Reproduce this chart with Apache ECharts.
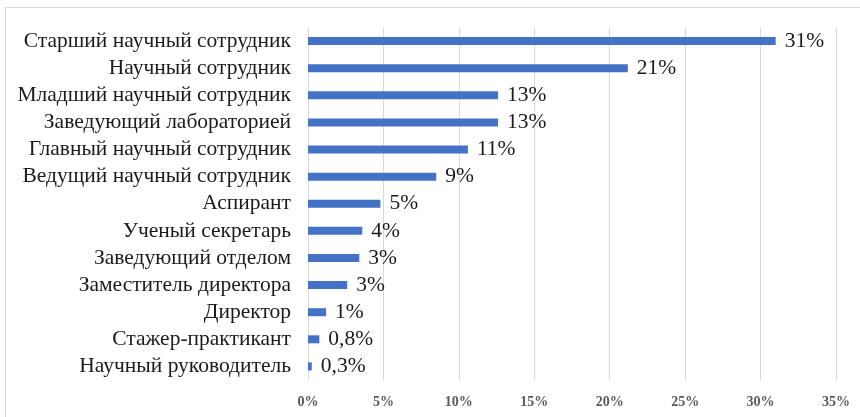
<!DOCTYPE html>
<html>
<head>
<meta charset="utf-8">
<script src="https://cdn.jsdelivr.net/npm/echarts@6/dist/echarts.min.js"></script>
<style>
  html, body { margin: 0; padding: 0; background: #fff; overflow: hidden; }
  #frame {
    position: absolute; left: 5px; top: 7px; width: 870px; height: 420px;
    border: 1px solid #d9d9d9; box-sizing: border-box;
  }
  #chart { position: absolute; left: 0; top: 0; width: 860px; height: 417px; }
</style>
</head>
<body>
<div id="frame"></div>
<div id="chart"></div>
<script>
  // ==================== 数据 ====================

  // категории сверху вниз
  var categories = [
    'Старший научный сотрудник',
    'Научный сотрудник',
    'Младший научный сотрудник',
    'Заведующий лабораторией',
    'Главный научный сотрудник',
    'Ведущий научный сотрудник',
    'Аспирант',
    'Ученый секретарь',
    'Заведующий отделом',
    'Заместитель директора',
    'Директор',
    'Стажер-практикант',
    'Научный руководитель'
  ];

  // длина столбцов, %
  var values = [31, 21.2, 12.6, 12.6, 10.6, 8.5, 4.8, 3.6, 3.4, 2.6, 1.2, 0.75, 0.25];

  // подписи над столбцами, как в оригинале
  var valueLabels = ['31%', '21%', '13%', '13%', '11%', '9%', '5%', '4%', '3%', '3%', '1%', '0,8%', '0,3%'];

  var xTicks = [0, 5, 10, 15, 20, 25, 30, 35];

  // ==================== 渲染 ====================

  var serif = '"Liberation Serif", "DejaVu Serif", serif';
  var chart = echarts.init(document.getElementById('chart'));

  chart.setOption({
    backgroundColor: 'transparent',
    animation: false,
    grid: { left: 308, right: 24, top: 27.5, bottom: 37, containLabel: false },
    xAxis: {
      type: 'value',
      min: xTicks[0],
      max: xTicks[xTicks.length - 1],
      interval: 5,
      axisLine: { show: false },
      axisTick: { show: false },
      splitLine: { lineStyle: { color: '#d9d9d9', width: 1 } },
      axisLabel: {
        color: '#595959', fontFamily: serif, fontSize: 14, fontWeight: 'bold', margin: 15,
        formatter: function (v) { return v + '%'; }
      }
    },
    yAxis: {
      type: 'category',
      data: categories,
      inverse: true,
      axisLine: { show: false },
      axisTick: { show: false },
      axisLabel: {
        interval: 0, hideOverlap: false,
        color: '#1a1a1a', fontFamily: serif, fontSize: 21.5, margin: 17
      }
    },
    series: [{
      type: 'bar',
      data: values,
      barWidth: 8,
      itemStyle: { color: '#4472c4' },
      label: {
        show: true,
        position: 'right',
        distance: 9,
        color: '#1a1a1a',
        fontFamily: serif,
        fontSize: 21.5,
        formatter: function (p) { return valueLabels[p.dataIndex]; }
      }
    }]
  });
</script>
</body>
</html>
